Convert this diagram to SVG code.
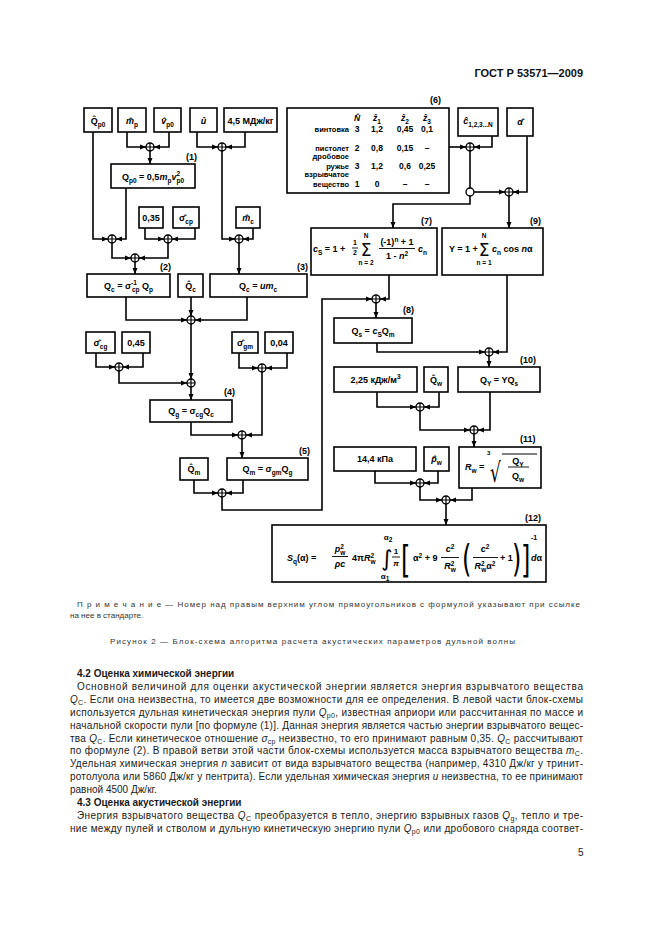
<svg xmlns="http://www.w3.org/2000/svg" width="661" height="936" viewBox="0 0 661 936">
<style>
.bx{fill:#fff;stroke:#000;stroke-width:1.6}
.ln{fill:none;stroke:#000;stroke-width:1.6}
.ar{fill:none;stroke:#000;stroke-width:1.6;marker-end:url(#ah)}
.t{font-family:"Liberation Sans",Arial,"DejaVu Sans",sans-serif;font-weight:bold;font-size:9px;fill:#000}
.m{text-anchor:middle}
.e{text-anchor:end}
.s{font-size:6.5px}
.i{font-style:italic}
.sy{font-family:"DejaVu Sans",sans-serif;font-weight:normal}
.tb{font-family:"Liberation Sans",Arial,sans-serif;font-weight:bold;font-size:8.5px}
.p{font-family:"Liberation Sans",Arial,sans-serif;font-size:10px;fill:#1a1a1a}
.ps{font-size:7px}
.h{font-weight:bold}
.n{font-family:"Liberation Sans",Arial,sans-serif;font-size:8px;fill:#333}
</style>
<defs>
<marker id="ah" viewBox="0 0 6 6" refX="6" refY="3" markerWidth="6" markerHeight="6" markerUnits="userSpaceOnUse" orient="auto"><path d="M0,0.5 L6,3 L0,5.5 z" fill="#000"/></marker>
<g id="jx"><circle r="4" fill="#fff" stroke="#000" stroke-width="1.4"/><path d="M-4,0H4M0,-4V4" stroke="#000" stroke-width="1.2"/></g>
</defs>
<rect width="661" height="936" fill="#fff"/>

<text x="583" y="77" class="p h e" style="font-size:11px;fill:#111">ГОСТ Р 53571—2009</text>

<g id="connectors">
<path class="ar" d="M127,132V147H146"/>
<path class="ar" d="M169,132V147H154"/>
<path class="ar" d="M150,151V164"/>
<path class="ar" d="M197,132V147H218"/>
<path class="ar" d="M245,132V147H226"/>
<path class="ar" d="M222,151V239H235"/>
<path class="ar" d="M93,132V239H108"/>
<path class="ar" d="M126,188V239H116"/>
<path class="ar" d="M112,243V258H131"/>
<path class="ar" d="M145,228V239H164"/>
<path class="ar" d="M195,228V239H172"/>
<path class="ar" d="M168,243V258H139"/>
<path class="ar" d="M135,262V274"/>
<path class="ar" d="M253,228V239H243"/>
<path class="ar" d="M239,243V274"/>
<path class="ar" d="M126,297V320H187"/>
<path class="ar" d="M247,297V320H195"/>
<path class="ar" d="M191,297V316"/>
<path class="ar" d="M191,324V379"/>
<path class="ar" d="M96,353V367H115"/>
<path class="ar" d="M143,353V367H123"/>
<path class="ar" d="M119,371V383H187"/>
<path class="ar" d="M191,387V400"/>
<path class="ar" d="M239,353V368H258"/>
<path class="ar" d="M287,353V368H266"/>
<path class="ar" d="M262,372V435H246"/>
<path class="ar" d="M191,422V435H238"/>
<path class="ar" d="M242,439V458"/>
<path class="ar" d="M194,480V493H218"/>
<path class="ar" d="M243,480V493H226"/>
<path class="ar" d="M222,497V510H322V299H372"/>
<path class="ar" d="M389,275V299H380"/>
<path class="ar" d="M376,303V318"/>
<path class="ar" d="M449,147H466"/>
<path class="ar" d="M492,136V147H474"/>
<path class="ln" d="M470,151V188"/>
<path class="ar" d="M474,192H505"/>
<path class="ar" d="M527,136V192H513"/>
<path class="ar" d="M470,196V204H393V228"/>
<path class="ar" d="M509,196V228"/>
<path class="ar" d="M377,343V352H485"/>
<path class="ar" d="M507,275V352H493"/>
<path class="ar" d="M489,356V367"/>
<path class="ar" d="M377,392V407H416"/>
<path class="ar" d="M439,392V407H424"/>
<path class="ar" d="M420,411V430H470"/>
<path class="ar" d="M490,392V430H478"/>
<path class="ar" d="M474,434V447"/>
<path class="ar" d="M375,471V483H416"/>
<path class="ar" d="M438,471V483H424"/>
<path class="ar" d="M420,487V500H442"/>
<path class="ar" d="M472,488V500H450"/>
<path class="ar" d="M446,504V525"/>
</g>

<g id="junctions">
<use href="#jx" x="150" y="147"/>
<use href="#jx" x="222" y="147"/>
<use href="#jx" x="112" y="239"/>
<use href="#jx" x="168" y="239"/>
<use href="#jx" x="135" y="258"/>
<use href="#jx" x="239" y="239"/>
<use href="#jx" x="191" y="320"/>
<use href="#jx" x="119" y="367"/>
<use href="#jx" x="191" y="383"/>
<use href="#jx" x="262" y="368"/>
<use href="#jx" x="242" y="435"/>
<use href="#jx" x="222" y="493"/>
<use href="#jx" x="376" y="299"/>
<use href="#jx" x="470" y="147"/>
<circle cx="470" cy="192" r="4" fill="#fff" stroke="#000" stroke-width="1.4"/>
<use href="#jx" x="509" y="192"/>
<use href="#jx" x="489" y="352"/>
<use href="#jx" x="420" y="407"/>
<use href="#jx" x="474" y="430"/>
<use href="#jx" x="420" y="483"/>
<use href="#jx" x="446" y="500"/>
</g>

<g id="n-qp0"><rect class="bx" x="84" y="108" width="28" height="24"/><text class="t m" x="98" y="124">Q̂<tspan class="s" dy="2.5">p0</tspan></text></g>
<g id="n-mp"><rect class="bx" x="118" y="108" width="28" height="24"/><text class="t m" x="132" y="124"><tspan class="i">m̂</tspan><tspan class="s" dy="2.5">p</tspan></text></g>
<g id="n-vp0"><rect class="bx" x="154" y="108" width="27" height="24"/><text class="t m" x="167.5" y="124"><tspan class="i">v̂</tspan><tspan class="s" dy="2.5">p0</tspan></text></g>
<g id="n-u"><rect class="bx" x="190" y="108" width="27" height="24"/><text class="t m i" x="203.5" y="124">û</text></g>
<g id="n-45"><rect class="bx" x="224" y="108" width="53" height="24"/><text class="t m" x="250.5" y="123.5">4,5 МДж/кг</text></g>

<g id="n-1"><rect class="bx" x="111" y="164" width="84" height="24"/><text class="t" x="186" y="160">(1)</text>
<text class="t m" x="153" y="180">Q<tspan class="s" dy="2.5">p0</tspan><tspan dy="-2.5"> = 0,5</tspan><tspan class="i">m</tspan><tspan class="s" dy="2.5">p</tspan><tspan class="i" dy="-2.5">v</tspan><tspan class="s" dy="-4">2</tspan><tspan class="s" dx="-3.6" dy="6.5">p0</tspan></text></g>

<g id="n-035"><rect class="bx" x="139" y="207" width="24" height="21"/><text class="t m" x="151" y="221">0,35</text></g>
<g id="n-scp"><rect class="bx" x="173" y="207" width="26" height="21"/><text class="t m" x="186" y="221">σ̂<tspan class="s" dy="2.5">cp</tspan></text></g>
<g id="n-mc"><rect class="bx" x="236" y="207" width="24" height="21"/><text class="t m" x="248" y="221"><tspan class="i">m̂</tspan><tspan class="s" dy="2.5">c</tspan></text></g>

<g id="n-2"><rect class="bx" x="87" y="274" width="83" height="23"/><text class="t" x="160" y="270">(2)</text>
<text class="t m" x="128.5" y="289">Q<tspan class="s" dy="2.5">c</tspan><tspan dy="-2.5"> = σ</tspan><tspan class="s" dy="-4">-1</tspan><tspan class="s" dx="-5" dy="6.5">cp</tspan><tspan dy="-2.5"> Q</tspan><tspan class="s" dy="2.5">p</tspan></text></g>
<g id="n-qc"><rect class="bx" x="178" y="274" width="25" height="23"/><text class="t m" x="190.5" y="289">Q̂<tspan class="s" dy="2.5">c</tspan></text></g>
<g id="n-3"><rect class="bx" x="210" y="274" width="97" height="23"/><text class="t" x="297" y="270">(3)</text>
<text class="t m" x="258" y="289">Q<tspan class="s" dy="2.5">c</tspan><tspan dy="-2.5"> = </tspan><tspan class="i">um</tspan><tspan class="s" dy="2.5">c</tspan></text></g>

<g id="n-scg"><rect class="bx" x="86" y="332" width="29" height="21"/><text class="t m" x="100.5" y="346">σ̂<tspan class="s" dy="2.5">cg</tspan></text></g>
<g id="n-045"><rect class="bx" x="122" y="332" width="28" height="21"/><text class="t m" x="136" y="346">0,45</text></g>
<g id="n-sgm"><rect class="bx" x="232" y="332" width="26" height="21"/><text class="t m" x="245" y="346">σ̂<tspan class="s" dy="2.5">gm</tspan></text></g>
<g id="n-004"><rect class="bx" x="265" y="332" width="28" height="21"/><text class="t m" x="279" y="346">0,04</text></g>

<g id="n-4"><rect class="bx" x="150" y="400" width="82" height="22"/><text class="t" x="224" y="395">(4)</text>
<text class="t m" x="191" y="414">Q<tspan class="s" dy="2.5">g</tspan><tspan dy="-2.5"> = σ</tspan><tspan class="s" dy="2.5">cg</tspan><tspan dy="-2.5">Q</tspan><tspan class="s" dy="2.5">c</tspan></text></g>

<g id="n-qm"><rect class="bx" x="180" y="458" width="28" height="22"/><text class="t m" x="194" y="472">Q̂<tspan class="s" dy="2.5">m</tspan></text></g>
<g id="n-5"><rect class="bx" x="227" y="458" width="81" height="22"/><text class="t" x="299" y="454">(5)</text>
<text class="t m" x="267.5" y="472">Q<tspan class="s" dy="2.5">m</tspan><tspan dy="-2.5"> = σ</tspan><tspan class="s" dy="2.5">gm</tspan><tspan dy="-2.5">Q</tspan><tspan class="s" dy="2.5">g</tspan></text></g>

<g id="n-6"><rect class="bx" x="287" y="108" width="162" height="85"/><text class="t" x="430" y="103">(6)</text>
<text class="tb m" x="357" y="121"><tspan class="i">N̂</tspan></text>
<text class="tb m" x="377" y="121"><tspan class="i">ẑ</tspan><tspan class="s" dy="2.5">1</tspan></text>
<text class="tb m" x="405" y="121"><tspan class="i">ẑ</tspan><tspan class="s" dy="2.5">2</tspan></text>
<text class="tb m" x="427" y="121"><tspan class="i">ẑ</tspan><tspan class="s" dy="2.5">3</tspan></text>
<text class="tb e" x="349" y="132" style="font-size:7.5px">винтовка</text>
<text class="tb m" x="357" y="132">3</text><text class="tb m" x="377" y="132">1,2</text><text class="tb m" x="405" y="132">0,45</text><text class="tb m" x="427" y="132">0,1</text>
<text class="tb e" x="349" y="151" style="font-size:7.5px">пистолет</text>
<text class="tb m" x="357" y="151">2</text><text class="tb m" x="377" y="151">0,8</text><text class="tb m" x="405" y="151">0,15</text><text class="tb m" x="427" y="151">–</text>
<text class="tb e" x="349" y="159" style="font-size:7.5px">дробовое</text>
<text class="tb e" x="349" y="169" style="font-size:7.5px">ружье</text>
<text class="tb m" x="357" y="169">3</text><text class="tb m" x="377" y="169">1,2</text><text class="tb m" x="405" y="169">0,6</text><text class="tb m" x="427" y="169">0,25</text>
<text class="tb e" x="349" y="177" style="font-size:7.5px">взрывчатое</text>
<text class="tb e" x="349" y="187" style="font-size:7.5px">вещество</text>
<text class="tb m" x="357" y="187">1</text><text class="tb m" x="377" y="187">0</text><text class="tb m" x="405" y="187">–</text><text class="tb m" x="427" y="187">–</text>
</g>

<g id="n-c"><rect class="bx" x="458" y="108" width="40" height="28"/><text class="t m" x="478" y="124"><tspan class="i">ĉ</tspan><tspan class="s" dy="2.5">1,2,3...N</tspan></text></g>
<g id="n-a"><rect class="bx" x="507" y="108" width="26" height="28"/><text class="t m i" x="520" y="125">α̂</text></g>

<g id="n-7"><rect class="bx" x="311" y="228" width="126" height="47"/><text class="t" x="421" y="224">(7)</text>
<text class="t" x="313" y="252"><tspan class="i">c</tspan><tspan class="s" dy="2.5">S</tspan><tspan dy="-2.5"> = 1 +</tspan></text>
<text class="t m" x="355" y="245" style="font-size:7px">1</text>
<path d="M352,248H358" stroke="#000" stroke-width="0.9"/>
<text class="t m" x="355" y="255" style="font-size:7px">2</text>
<text class="t m sy" x="366" y="256" style="font-size:17px">Σ</text>
<text class="t m" x="366" y="238" style="font-size:6.5px">N</text>
<text class="t m" x="366" y="265" style="font-size:6.5px">n = 2</text>
<text class="t m" x="397" y="245">(-1)<tspan class="s" dy="-3.5">n</tspan><tspan dy="3.5"> + 1</tspan></text>
<path d="M379,248.5H415" stroke="#000" stroke-width="0.9"/>
<text class="t m" x="397" y="259">1 - <tspan class="i">n</tspan><tspan class="s" dy="-3.5">2</tspan></text>
<text class="t" x="418" y="252"><tspan class="i">c</tspan><tspan class="s" dy="2.5">n</tspan></text>
</g>

<g id="n-9"><rect class="bx" x="442" y="228" width="101" height="47"/><text class="t" x="530" y="224">(9)</text>
<text class="t" x="449" y="252">Y = 1 +</text>
<text class="t m sy" x="484" y="256" style="font-size:17px">Σ</text>
<text class="t m" x="484" y="238" style="font-size:6.5px">N</text>
<text class="t m" x="484" y="265" style="font-size:6.5px">n = 1</text>
<text class="t" x="492" y="252"><tspan class="i">c</tspan><tspan class="s" dy="2.5">n</tspan><tspan dy="-2.5"> cos </tspan><tspan class="i">n</tspan>α</text>
</g>

<g id="n-8"><rect class="bx" x="334" y="318" width="78" height="25"/><text class="t" x="403" y="313">(8)</text>
<text class="t m" x="373" y="334">Q<tspan class="s" dy="2.5">s</tspan><tspan dy="-2.5"> = </tspan><tspan class="i">c</tspan><tspan class="s" dy="2.5">S</tspan><tspan dy="-2.5">Q</tspan><tspan class="s" dy="2.5">m</tspan></text></g>

<g id="n-225"><rect class="bx" x="334" y="367" width="83" height="25"/><text class="t m" x="375.5" y="383">2,25 кДж/м<tspan class="s" dy="-4">3</tspan></text></g>
<g id="n-qw"><rect class="bx" x="424" y="367" width="24" height="25"/><text class="t m" x="436" y="383">Q̂<tspan class="s" dy="2.5">w</tspan></text></g>
<g id="n-10"><rect class="bx" x="458" y="367" width="82" height="25"/><text class="t" x="520" y="363">(10)</text>
<text class="t m" x="499" y="383">Q<tspan class="s" dy="2.5">Y</tspan><tspan dy="-2.5"> = YQ</tspan><tspan class="s" dy="2.5">s</tspan></text></g>

<g id="n-144"><rect class="bx" x="334" y="447" width="82" height="24"/><text class="t m" x="375" y="462">14,4 кПа</text></g>
<g id="n-pw"><rect class="bx" x="424" y="447" width="25" height="24"/><text class="t m" x="436.5" y="462"><tspan class="i">p̂</tspan><tspan class="s" dy="2.5">w</tspan></text></g>
<g id="n-11"><rect class="bx" x="459" y="447" width="82" height="41"/><text class="t" x="520" y="442">(11)</text>
<text class="t" x="465" y="470"><tspan class="i">R</tspan><tspan class="s" dy="2.5">w</tspan><tspan dy="-2.5"> =</tspan></text>
<text class="t" x="487" y="455" style="font-size:6px">3</text>
<text class="sy" x="0" y="0" transform="translate(490,482) scale(1,1.6)" style="font-size:17px">√</text>
<path d="M502,454H537" stroke="#000" stroke-width="1"/>
<text class="t m" x="518" y="464">Q<tspan class="s" dy="2.5">Y</tspan></text>
<path d="M508,467H529" stroke="#000" stroke-width="0.9"/>
<text class="t m" x="518" y="479">Q<tspan class="s" dy="2.5">w</tspan></text>
</g>

<g id="n-12"><rect class="bx" x="272" y="525" width="274" height="57"/><text class="t" x="525" y="521">(12)</text>
<text class="t" x="287" y="561"><tspan class="i">S</tspan><tspan class="s" dy="2.5">q</tspan><tspan dy="-2.5">(α) =</tspan></text>
<text class="t m" x="340" y="552"><tspan class="i">p</tspan><tspan class="s" dy="-3.5">2</tspan><tspan class="s" dx="-3.6" dy="6">w</tspan></text>
<path d="M332,556.5H348" stroke="#000" stroke-width="0.9"/>
<text class="t m i" x="340" y="567">ρc</text>
<text class="t" x="352" y="561">4π<tspan class="i">R</tspan><tspan class="s" dy="-3.5">2</tspan><tspan class="s" dx="-3.6" dy="6">w</tspan></text>
<text class="sy" x="381" y="566" style="font-size:22px">∫</text>
<text class="t m" x="388" y="540" style="font-size:8px">α<tspan class="s" dy="2">2</tspan></text>
<text class="t m" x="385" y="579" style="font-size:8px">α<tspan class="s" dy="2">1</tspan></text>
<text class="t m" x="396" y="554" style="font-size:8px">1</text>
<path d="M392,557H400" stroke="#000" stroke-width="0.9"/>
<text class="t m i" x="396" y="566" style="font-size:8px">π</text>
<text class="sy" x="0" y="0" transform="translate(401,572) scale(0.8,1.25)" style="font-size:30px">[</text>
<text class="t" x="413" y="561">α<tspan class="s" dy="-3.5">2</tspan><tspan dy="3.5"> + 9</tspan></text>
<text class="t m" x="450" y="552"><tspan class="i">c</tspan><tspan class="s" dy="-3.5">2</tspan></text>
<path d="M441,557.5H459" stroke="#000" stroke-width="0.9"/>
<text class="t m" x="450" y="569"><tspan class="i">R</tspan><tspan class="s" dy="-3.5">2</tspan><tspan class="s" dx="-3.6" dy="6">w</tspan></text>
<text class="sy" x="0" y="0" transform="translate(462,571) scale(0.8,1.25)" style="font-size:30px">(</text>
<text class="t m" x="485" y="552"><tspan class="i">c</tspan><tspan class="s" dy="-3.5">2</tspan></text>
<path d="M473,557.5H498" stroke="#000" stroke-width="0.9"/>
<text class="t m" x="485" y="569"><tspan class="i">R</tspan><tspan class="s" dy="-3.5">2</tspan><tspan class="s" dx="-3.6" dy="6">w</tspan><tspan dy="-2.5">α</tspan><tspan class="s" dy="-3.5">2</tspan></text>
<text class="t" x="500" y="561">+ 1</text>
<text class="sy" x="0" y="0" transform="translate(512,571) scale(0.8,1.25)" style="font-size:30px">)</text>
<text class="sy" x="0" y="0" transform="translate(521,572) scale(0.8,1.25)" style="font-size:30px">]</text>
<text class="t" x="531" y="540" style="font-size:7px">-1</text>
<text class="t" x="531" y="561"><tspan class="i">d</tspan>α</text>
</g>

<g id="page-text">
<text class="n" x="77" y="607" textLength="503" lengthAdjust="spacing">П р и м е ч а н и е — Номер над правым верхним углом прямоугольников с формулой указывают при ссылке</text>
<text class="n" x="70" y="618">на нее в стандарте.</text>
<text class="n" x="110" y="644" textLength="405" lengthAdjust="spacing">Рисунок  2 — Блок-схема алгоритма расчета акустических параметров дульной волны</text>
<text class="p h" x="77" y="677">4.2  Оценка химической энергии</text>
<text class="p" x="77" y="689.9" textLength="506" lengthAdjust="spacing">Основной величиной для оценки акустической энергии является энергия взрывчатого вещества</text>
<text class="p" x="70" y="702.8" textLength="513" lengthAdjust="spacing"><tspan class="i">Q</tspan><tspan class="ps" dy="2">C</tspan><tspan dy="-2">. Если она неизвестна, то имеется две возможности для ее определения. В левой части блок-схемы</tspan></text>
<text class="p" x="70" y="715.7" textLength="513" lengthAdjust="spacing">используется дульная кинетическая энергия пули <tspan class="i">Q</tspan><tspan class="ps" dy="2">p0</tspan><tspan dy="-2">, известная априори или рассчитанная по массе и</tspan></text>
<text class="p" x="70" y="728.6" textLength="513" lengthAdjust="spacing">начальной скорости пули [по формуле (1)]. Данная энергия является частью энергии взрывчатого вещес-</text>
<text class="p" x="70" y="741.5" textLength="513" lengthAdjust="spacing">тва <tspan class="i">Q</tspan><tspan class="ps" dy="2">C</tspan><tspan dy="-2">. Если кинетическое отношение </tspan><tspan class="i">σ</tspan><tspan class="ps" dy="2">cp</tspan><tspan dy="-2"> неизвестно, то его принимают равным 0,35. </tspan><tspan class="i">Q</tspan><tspan class="ps" dy="2">C</tspan><tspan dy="-2"> рассчитывают</tspan></text>
<text class="p" x="70" y="754.4" textLength="513" lengthAdjust="spacing">по формуле (2). В правой ветви этой части блок-схемы используется масса взрывчатого вещества <tspan class="i">m</tspan><tspan class="ps" dy="2">C</tspan><tspan dy="-2">.</tspan></text>
<text class="p" x="70" y="767.3" textLength="513" lengthAdjust="spacing">Удельная химическая энергия <tspan class="i">n</tspan> зависит от вида взрывчатого вещества (например, 4310 Дж/кг у тринит-</text>
<text class="p" x="70" y="780.2" textLength="513" lengthAdjust="spacing">ротолуола или 5860 Дж/кг у пентрита). Если удельная химическая энергия <tspan class="i">u</tspan> неизвестна, то ее принимают</text>
<text class="p" x="70" y="793.1">равной 4500 Дж/кг.</text>
<text class="p h" x="77" y="806">4.3  Оценка акустической энергии</text>
<text class="p" x="77" y="818.9" textLength="506" lengthAdjust="spacing">Энергия взрывчатого вещества <tspan class="i">Q</tspan><tspan class="ps" dy="2">C</tspan><tspan dy="-2"> преобразуется в тепло, энергию взрывных газов </tspan><tspan class="i">Q</tspan><tspan class="ps" dy="2">g</tspan><tspan dy="-2">, тепло и тре-</tspan></text>
<text class="p" x="70" y="831.8" textLength="513" lengthAdjust="spacing">ние между пулей и стволом и дульную кинетическую энергию пули <tspan class="i">Q</tspan><tspan class="ps" dy="2">p0</tspan><tspan dy="-2"> или дробового снаряда соответ-</tspan></text>
<text class="p" x="578" y="856">5</text>
</g>
</svg>
